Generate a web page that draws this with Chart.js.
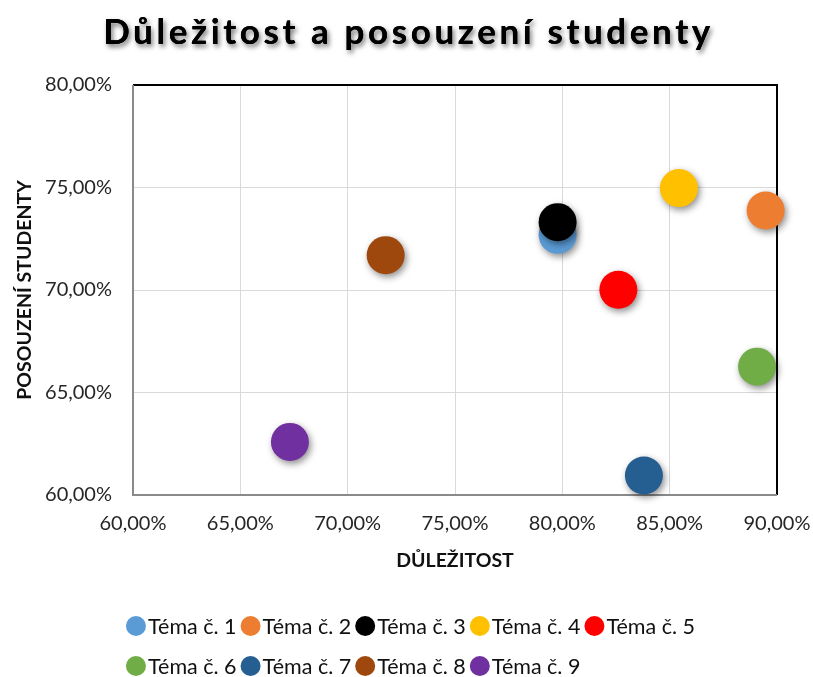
<!DOCTYPE html>
<html><head><meta charset="utf-8">
<script src="https://cdn.jsdelivr.net/npm/chart.js@4/dist/chart.umd.min.js"></script>
<style>html,body{margin:0;padding:0;background:#fff}#wrap{width:813px;height:677px}</style>
</head><body><div id="wrap"><canvas id="c" width="813" height="677"></canvas></div>
<script>
const chartTitle = 'Důležitost a posouzení studenty';
const xAxisTitle = 'DŮLEŽITOST';
const yAxisTitle = 'POSOUZENÍ STUDENTY';
const categories = ['Téma č. 1','Téma č. 2','Téma č. 3','Téma č. 4','Téma č. 5','Téma č. 6','Téma č. 7','Téma č. 8','Téma č. 9'];
const importance = [79.78, 89.47, 79.78, 85.43, 82.61, 89.07, 83.80, 71.77, 67.31];
const assessment = [72.69, 73.88, 73.31, 74.97, 70.01, 66.26, 60.95, 71.70, 62.59];
const colors = ['#5B9BD5','#ED7D31','#000000','#FFC000','#FF0000','#70AD47','#255E91','#9E480E','#7030A0'];
const xTickValues = [60, 65, 70, 75, 80, 85, 90];
const yTickValues = [60, 65, 70, 75, 80];

const fmt = v => v.toFixed(2).replace('.', ',') + '%';
const FONT = 'Lato';

const datasets = categories.map((name, i) => ({
  label: name,
  data: [{x: importance[i], y: assessment[i]}],
  backgroundColor: colors[i],
  borderColor: colors[i],
  borderWidth: 0,
  pointRadius: 19,
  pointHoverRadius: 19,
  clip: false,
  order: -i
}));

const shadowPlugin = {
  id: 'shadow',
  beforeDatasetDraw(chart) {
    const ctx = chart.ctx;
    ctx.save();
    ctx.shadowColor = 'rgba(0,0,0,0.45)';
    ctx.shadowBlur = 7;
    ctx.shadowOffsetX = 2;
    ctx.shadowOffsetY = 3;
  },
  afterDatasetDraw(chart) { chart.ctx.restore(); }
};

const framePlugin = {
  id: 'frame',
  beforeDatasetsDraw(chart) {
    const {ctx, chartArea: a} = chart;
    ctx.save();
    ctx.lineWidth = 2;
    ctx.strokeStyle = '#000000';
    ctx.beginPath();
    ctx.moveTo(a.left, a.top); ctx.lineTo(a.right, a.top); ctx.lineTo(a.right, a.bottom);
    ctx.stroke();
    ctx.strokeStyle = '#8a8a8a';
    ctx.beginPath();
    ctx.moveTo(a.left, a.top); ctx.lineTo(a.left, a.bottom); ctx.lineTo(a.right, a.bottom);
    ctx.stroke();
    ctx.restore();
  }
};

const titlePlugin = {
  id: 'spacedTitle',
  afterDraw(chart) {
    const ctx = chart.ctx;
    ctx.save();
    ctx.font = 'bold 35px ' + FONT;
    ctx.letterSpacing = '3.6px';
    ctx.textAlign = 'center';
    ctx.textBaseline = 'middle';
    const x = chart.width / 2 + 2;
    const y = 33;
    ctx.fillStyle = '#000';
    ctx.shadowColor = 'rgba(0,0,0,0.55)';
    ctx.shadowBlur = 5;
    ctx.shadowOffsetX = 2;
    ctx.shadowOffsetY = 3;
    ctx.fillText(chartTitle, x, y);
    ctx.shadowColor = 'rgba(0,0,0,0)';
    ctx.fillText(chartTitle, x, y);
    ctx.restore();
  }
};

const legendPlugin = {
  id: 'customLegend',
  afterDraw(chart) {
    const ctx = chart.ctx;
    ctx.save();
    ctx.font = '21.5px ' + FONT;
    ctx.textBaseline = 'middle';
    ctx.textAlign = 'left';
    const r = 10, gapText = 2, gapItem = 4;
    const rows = [[0,1,2,3,4],[5,6,7,8]];
    const itemW = i => 2 * r + gapText + ctx.measureText(categories[i]).width;
    const widths = rows.map(row => row.reduce((s, i) => s + itemW(i), 0) + gapItem * (row.length - 1));
    const startX = (chart.width - widths[0]) / 2 + 4;
    const rowY = [chart.height - 51, chart.height - 11];
    rows.forEach((row, ri) => {
      let x = startX;
      row.forEach(i => {
        ctx.fillStyle = colors[i];
        ctx.beginPath();
        ctx.arc(x + r, rowY[ri], r, 0, Math.PI * 2);
        ctx.fill();
        ctx.fillStyle = '#111111';
        ctx.fillText(categories[i], x + 2 * r + gapText, rowY[ri] + 1);
        x += itemW(i) + gapItem;
      });
    });
    ctx.restore();
  }
};

new Chart(document.getElementById('c'), {
  type: 'scatter',
  data: { datasets },
  options: {
    responsive: false,
    animation: false,
    events: [],
    layout: { padding: { left: 0, right: 36, top: 85, bottom: 97 } },
    plugins: {
      legend: { display: false },
      tooltip: { enabled: false },
      title: { display: false, text: chartTitle }
    },
    scales: {
      x: {
        type: 'linear',
        min: xTickValues[0],
        max: xTickValues[xTickValues.length - 1],
        afterBuildTicks: s => { s.ticks = xTickValues.map(v => ({value: v})); },
        afterFit: s => { s.height = 85; s.paddingLeft = 0; s.paddingRight = 0; },
        grid: { color: '#d9d9d9', lineWidth: 1, drawTicks: false },
        border: { display: false },
        ticks: { callback: v => fmt(v), color: '#262626', font: { family: FONT, size: 20 }, padding: 17, maxRotation: 0 },
        title: { display: true, text: xAxisTitle, color: '#111111', font: { family: FONT, size: 19.5, weight: 'bold', lineHeight: 1.2 }, padding: { top: 0, bottom: 8 } }
      },
      y: {
        type: 'linear',
        min: yTickValues[0],
        max: yTickValues[yTickValues.length - 1],
        afterBuildTicks: s => { s.ticks = yTickValues.map(v => ({value: v})); },
        afterFit: s => { s.width = 133; s.paddingTop = 0; s.paddingBottom = 0; },
        grid: { color: '#d9d9d9', lineWidth: 1, drawTicks: false },
        border: { display: false },
        ticks: { callback: v => fmt(v), color: '#262626', font: { family: FONT, size: 20 }, padding: 21 },
        title: { display: true, text: yAxisTitle, color: '#111111', font: { family: FONT, size: 19.5, weight: 'bold', lineHeight: 1.2 }, padding: { top: 13, bottom: 0 } }
      }
    }
  },
  plugins: [framePlugin, shadowPlugin, titlePlugin, legendPlugin]
});
</script>
</body></html>
